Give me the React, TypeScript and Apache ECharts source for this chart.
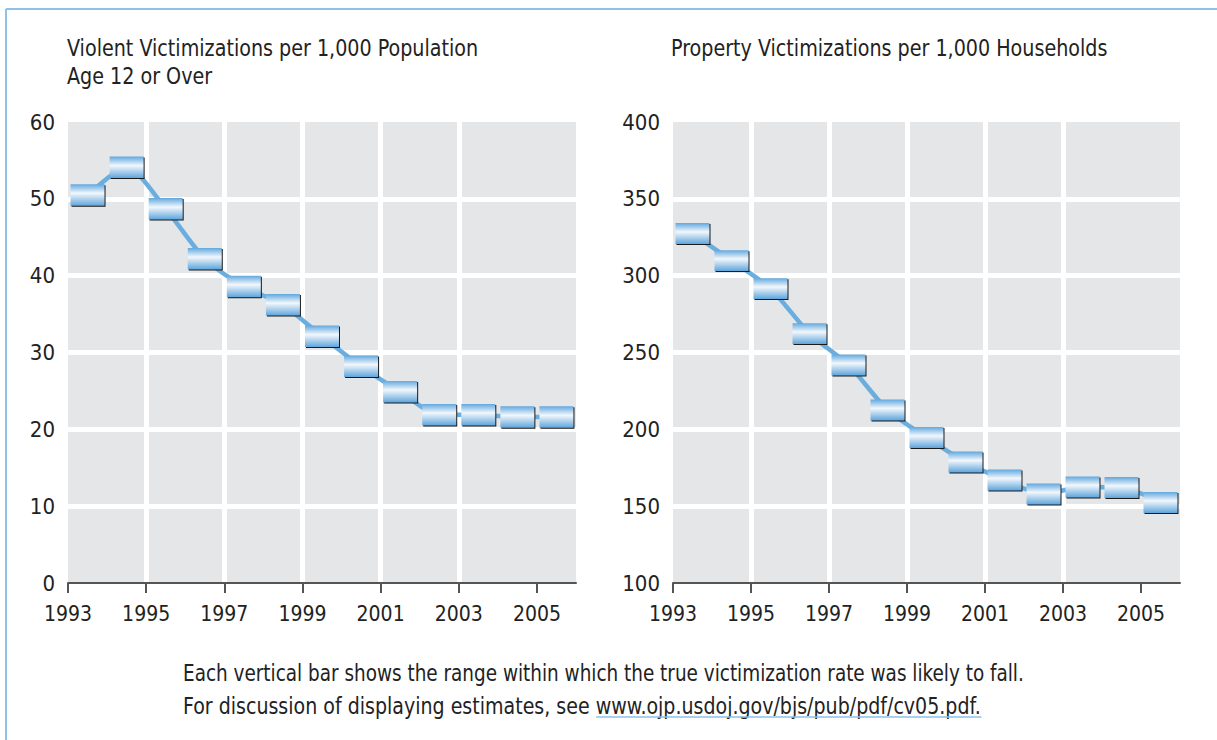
import React, { useEffect, useRef } from "react";
import * as echarts from "echarts";

const years = [1993, 1994, 1995, 1996, 1997, 1998, 1999, 2000, 2001, 2002, 2003, 2004, 2005];
const violentRate = [50.5, 54.1, 48.7, 42.2, 38.6, 36.2, 32.1, 28.2, 24.9, 21.9, 21.9, 21.6, 21.6];
const violentHalfRange = [1.4, 1.4, 1.4, 1.4, 1.4, 1.4, 1.4, 1.4, 1.4, 1.4, 1.4, 1.4, 1.4];
const propertyRate = [327.4, 309.8, 291.6, 262.3, 241.9, 212.6, 194.7, 178.7, 167.0, 157.9, 162.5, 162.1, 152.4];
const propertyHalfRange = [6.8, 6.8, 6.8, 6.8, 6.8, 6.8, 6.8, 6.8, 6.8, 6.8, 6.8, 6.8, 6.8];
const xTickYears = [1993, 1995, 1997, 1999, 2001, 2003, 2005];

const violentTitle = ["Violent Victimizations per 1,000 Population", "Age 12 or Over"];
const propertyTitle = "Property Victimizations per 1,000 Households";
const noteLine1 = "Each vertical bar shows the range within which the true victimization rate was likely to fall.";
const noteLine2a = "For discussion of displaying estimates, see ";
const noteLine2b = "www.ojp.usdoj.gov/bjs/pub/pdf/cv05.pdf";

const FONT = "'Liberation Sans Narrow', 'DejaVu Sans Condensed', 'Arial Narrow', sans-serif";
const BASE_YEAR = 1993;
const TXT_SIZE = 23;

function measure(text: string, font: string): number {
  const c = document.createElement("canvas").getContext("2d");
  if (!c) return text.length * 10;
  c.font = font;
  return c.measureText(text).width;
}

export default function App() {
  const ref = useRef<HTMLDivElement>(null);

  useEffect(() => {
    if (!ref.current) return;
    const chart = echarts.init(ref.current, undefined, { renderer: "svg" });

    const xPos = years.map((y) => y - BASE_YEAR + 0.5);
    const tickVals = xTickYears.map((y) => y - BASE_YEAR);

    const xAxisCommon = (gridIndex: number) => ({
      type: "value",
      gridIndex,
      min: 0,
      max: 13,
      interval: 2,
      axisLine: { show: true, onZero: false, lineStyle: { color: "#555", width: 2 } },
      axisTick: { show: true, length: 10, lineStyle: { color: "#555", width: 2 }, customValues: tickVals },
      axisLabel: {
        show: true,
        margin: 20,
        fontSize: 21,
        fontFamily: FONT,
        color: "#222",
        customValues: tickVals,
        formatter: (v: number) => String(v + BASE_YEAR),
      },
      splitLine: { show: true, showMinLine: false, showMaxLine: false, lineStyle: { color: "#fff", width: 5 } },
    });

    const yAxisCommon = (gridIndex: number, min: number, max: number, interval: number) => ({
      type: "value",
      gridIndex,
      min,
      max,
      interval,
      axisLine: { show: false },
      axisTick: { show: false },
      axisLabel: { fontSize: 22, fontFamily: FONT, color: "#222", margin: 13 },
      splitLine: { show: true, showMinLine: false, showMaxLine: false, lineStyle: { color: "#fff", width: 5 } },
    });

    const gradient = {
      type: "linear",
      x: 0,
      y: 0,
      x2: 0,
      y2: 1,
      colorStops: [
        { offset: 0, color: "#62a8de" },
        { offset: 0.42, color: "#f2f7fc" },
        { offset: 1, color: "#5ea5dc" },
      ],
    };

    const renderBox = (params: any, api: any) => {
      const x = api.value(0);
      const lo = api.coord([x, api.value(1)]);
      const hi = api.coord([x, api.value(2)]);
      const w = 34;
      const left = lo[0] - w / 2;
      const top = hi[1];
      const h = lo[1] - hi[1];
      return {
        type: "group",
        children: [
          { type: "rect", shape: { x: left + 1, y: top + 1, width: w, height: h }, style: { fill: "#1a1a1a" } },
          { type: "rect", shape: { x: left, y: top, width: w, height: h }, style: { fill: gradient } },
        ],
      };
    };

    const lineSeries = (idx: number, rate: number[]) => ({
      type: "line",
      xAxisIndex: idx,
      yAxisIndex: idx,
      data: rate.map((v, i) => [xPos[i], v]),
      smooth: 0.25,
      symbol: "none",
      lineStyle: { color: "#6aaee0", width: 4.5 },
      z: 2,
    });

    const boxSeries = (idx: number, rate: number[], half: number[]) => ({
      type: "custom",
      xAxisIndex: idx,
      yAxisIndex: idx,
      data: rate.map((v, i) => [xPos[i], v - half[i], v + half[i]]),
      encode: { x: 0, y: [1, 2] },
      renderItem: renderBox,
      z: 3,
    });

    const font = `${TXT_SIZE}px ${FONT}`;
    const txt = (text: string, x: number, y: number, scaleX: number) => ({
      type: "text",
      x,
      y,
      scaleX,
      style: { text, fill: "#222", font },
    });

    const line2Scale = 0.92;
    const urlStart = 183 + measure(noteLine2a, font) * line2Scale;
    const urlEnd = urlStart + measure(noteLine2b + ".", font) * line2Scale;

    chart.setOption({
      animation: false,
      backgroundColor: "#fff",
      grid: [
        { left: 68, top: 122, width: 508, height: 461, show: true, backgroundColor: "#e5e6e8", borderWidth: 0 },
        { left: 673, top: 122, width: 507, height: 461, show: true, backgroundColor: "#e5e6e8", borderWidth: 0 },
      ],
      xAxis: [xAxisCommon(0), xAxisCommon(1)],
      yAxis: [yAxisCommon(0, 0, 60, 10), yAxisCommon(1, 100, 400, 50)],
      series: [
        lineSeries(0, violentRate),
        boxSeries(0, violentRate, violentHalfRange),
        lineSeries(1, propertyRate),
        boxSeries(1, propertyRate, propertyHalfRange),
      ],
      graphic: [
        { type: "line", shape: { x1: 6, y1: 9, x2: 1217, y2: 9 }, style: { stroke: "#8ec0ea", lineWidth: 2 } },
        { type: "line", shape: { x1: 6, y1: 9, x2: 6, y2: 740 }, style: { stroke: "#8ec0ea", lineWidth: 2 } },
        txt(violentTitle[0], 67, 36, 0.925),
        txt(violentTitle[1], 67, 64, 0.925),
        txt(propertyTitle, 671, 36, 0.925),
        txt(noteLine1, 183, 662, 0.89),
        txt(noteLine2a + noteLine2b + ".", 183, 694, line2Scale),
        {
          type: "line",
          shape: { x1: urlStart, y1: 717, x2: urlEnd, y2: 717 },
          style: { stroke: "#8ec0ea", lineWidth: 1.5 },
        },
      ],
    });

    return () => chart.dispose();
  }, []);

  return (
    <div
      ref={ref}
      style={{ position: "fixed", left: 0, top: 0, width: 1217, height: 740, background: "#fff" }}
    />
  );
}
